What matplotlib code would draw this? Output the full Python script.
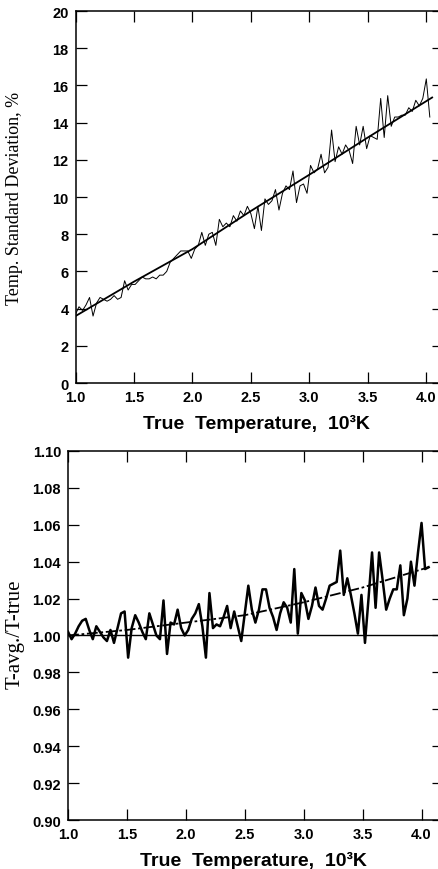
# Temperature statistics vs true temperature (two stacked panels)

import numpy as np
import matplotlib.pyplot as plt


# Data

temp_k = [1.00, 1.03, 1.06, 1.09, 1.12, 1.15, 1.18, 1.21, 1.24, 1.27,
          1.30, 1.33, 1.36, 1.39, 1.42, 1.45, 1.48, 1.51, 1.54, 1.57,
          1.60, 1.63, 1.66, 1.69, 1.72, 1.75, 1.78, 1.81, 1.84, 1.87,
          1.90, 1.93, 1.96, 1.99, 2.02, 2.05, 2.08, 2.11, 2.14, 2.17,
          2.20, 2.23, 2.26, 2.29, 2.32, 2.35, 2.38, 2.41, 2.44, 2.47,
          2.50, 2.53, 2.56, 2.59, 2.62, 2.65, 2.68, 2.71, 2.74, 2.77,
          2.80, 2.83, 2.86, 2.89, 2.92, 2.95, 2.98, 3.01, 3.04, 3.07,
          3.10, 3.13, 3.16, 3.19, 3.22, 3.25, 3.28, 3.31, 3.34, 3.37,
          3.40, 3.43, 3.46, 3.49, 3.52, 3.55, 3.58, 3.61, 3.64, 3.67,
          3.70, 3.73, 3.76, 3.79, 3.82, 3.85, 3.88, 3.91, 3.94, 3.97,
          4.00, 4.03, 4.06]

std_pct = [3.7, 4.1, 3.9, 4.2, 4.6, 3.6, 4.3, 4.6, 4.5, 4.4,
           4.5, 4.7, 4.5, 4.6, 5.5, 5.0, 5.3, 5.3, 5.5, 5.7,
           5.6, 5.6, 5.7, 5.6, 5.8, 5.8, 6.0, 6.5, 6.7, 6.9,
           7.1, 7.1, 7.1, 6.7, 7.2, 7.4, 8.1, 7.4, 8.0, 8.1,
           7.4, 8.8, 8.4, 8.6, 8.4, 9.0, 8.7, 9.25, 9.0, 9.5,
           9.1, 8.3, 9.5, 8.2, 9.9, 9.6, 9.8, 10.4, 9.3, 10.2,
           10.6, 10.4, 11.4, 9.7, 10.6, 10.7, 10.2, 11.7, 11.3, 11.5,
           12.3, 11.3, 11.6, 13.6, 11.9, 12.7, 12.3, 12.8, 12.5, 11.8,
           13.8, 12.8, 13.8, 12.6, 13.3, 13.2, 13.1, 15.3, 13.2, 15.45,
           13.8, 14.3, 14.3, 14.4, 14.4, 14.8, 14.6, 15.2, 14.9, 15.3,
           16.35, 14.3]

ratio = [1.002, 0.998, 1.001, 1.005, 1.008, 1.009, 1.003, 0.998, 1.005, 1.002,
         0.999, 0.997, 1.003, 0.996, 1.004, 1.012, 1.013, 0.988, 1.004, 1.011,
         1.007, 1.002, 0.998, 1.012, 1.006, 1.000, 0.998, 1.019, 0.990, 1.007,
         1.006, 1.014, 1.004, 1.000, 1.003, 1.009, 1.012, 1.017, 1.005, 0.988,
         1.023, 1.004, 1.006, 1.005, 1.010, 1.016, 1.004, 1.013, 1.005, 0.997,
         1.012, 1.027, 1.014, 1.007, 1.014, 1.025, 1.025, 1.015, 1.010, 1.003,
         1.012, 1.018, 1.015, 1.007, 1.036, 1.001, 1.023, 1.019, 1.009, 1.016,
         1.026, 1.016, 1.014, 1.020, 1.027, 1.028, 1.029, 1.046, 1.022, 1.031,
         1.022, 1.012, 1.001, 1.022, 0.996, 1.020, 1.045, 1.015, 1.045, 1.030,
         1.014, 1.020, 1.025, 1.025, 1.038, 1.011, 1.020, 1.040, 1.027, 1.045,
         1.061, 1.036, 1.037]

# fitted curves (knots)
std_fit_x = [1.0, 1.5, 2.0, 2.5, 3.0, 3.5, 4.05]
std_fit_y = [3.6, 5.45, 7.2, 9.25, 11.2, 13.2, 15.35]
ratio_fit_x = [1.0, 1.5, 2.0, 2.5, 3.0, 3.5, 4.06]
ratio_fit_y = [1.0, 1.003, 1.007, 1.011, 1.018, 1.026, 1.037]

x_ticks = [1.0, 1.5, 2.0, 2.5, 3.0, 3.5, 4.0]
std_ticks = [0, 2, 4, 6, 8, 10, 12, 14, 16, 18, 20]
ratio_ticks = [0.90, 0.92, 0.94, 0.96, 0.98, 1.00, 1.02, 1.04, 1.06, 1.08, 1.10]


# Styling helpers

tick_font = dict(family='Liberation Sans', weight='bold', size=10.5)
xlabel_font = dict(family='Liberation Sans', weight='bold', size=14)
ylabel_font = dict(family='Liberation Serif', size=13)


def style_axes(ax, yticks, yfmt):

    ax.spines['right'].set_visible(False)
    for s in ['left', 'top', 'bottom']:
        ax.spines[s].set_linewidth(1.1)
    ax.set_xticks(x_ticks)
    ax.set_yticks(yticks)
    ax.set_xticklabels(["%.1f" % t for t in x_ticks], fontdict=tick_font)
    ax.set_yticklabels([yfmt % t for t in yticks], fontdict=tick_font)
    ax.tick_params(axis='x', direction='in', top=True, length=8, width=0.9, pad=5)
    ax.tick_params(axis='y', direction='in', right=True, length=8, width=0.9, pad=5)
    for t in ax.yaxis.get_major_ticks():
        t.tick2line.set_markersize(4)
    ax.set_xlabel("True  Temperature,  10\u00b3K", fontdict=xlabel_font, labelpad=7)


# Figure

fig = plt.figure(figsize=(4.39, 8.7), dpi=100)

# Top panel: standard deviation
ax1 = fig.add_axes([0.172, 0.5586, 0.8257, 0.4276])
ax1.plot(temp_k[:len(std_pct)], std_pct, color='black', lw=0.7)
ax1.plot(std_fit_x, std_fit_y, color='black', lw=1.3)
ax1.set_xlim(1.0, 4.10)
ax1.set_ylim(0, 20)
style_axes(ax1, std_ticks, "%d")
fig.text(15 / 439, 1 - 198 / 870, "Temp. Standard Deviation, %",
         rotation=90, ha='center', va='center', fontdict=ylabel_font)

# Bottom panel: ratio of averaged to true temperature
ax2 = fig.add_axes([0.155, 0.0563, 0.8428, 0.4242])
ax2.axhline(1.0, color='black', lw=1.0)
ax2.plot(temp_k[:len(ratio)], ratio, color='black', lw=1.8)
ax2.plot(ratio_fit_x, ratio_fit_y, color='black', lw=1.3, linestyle=(0, (6, 1.5, 1.5, 1.5)))
ax2.set_xlim(1.0, 4.14)
ax2.set_ylim(0.90, 1.10)
style_axes(ax2, ratio_ticks, "%.2f")
fig.text(15 / 439, 1 - 634 / 870, "T-avg./T-true",
         rotation=90, ha='center', va='center', fontdict=dict(ylabel_font, size=15))

fig.savefig("out.png", dpi=100)
